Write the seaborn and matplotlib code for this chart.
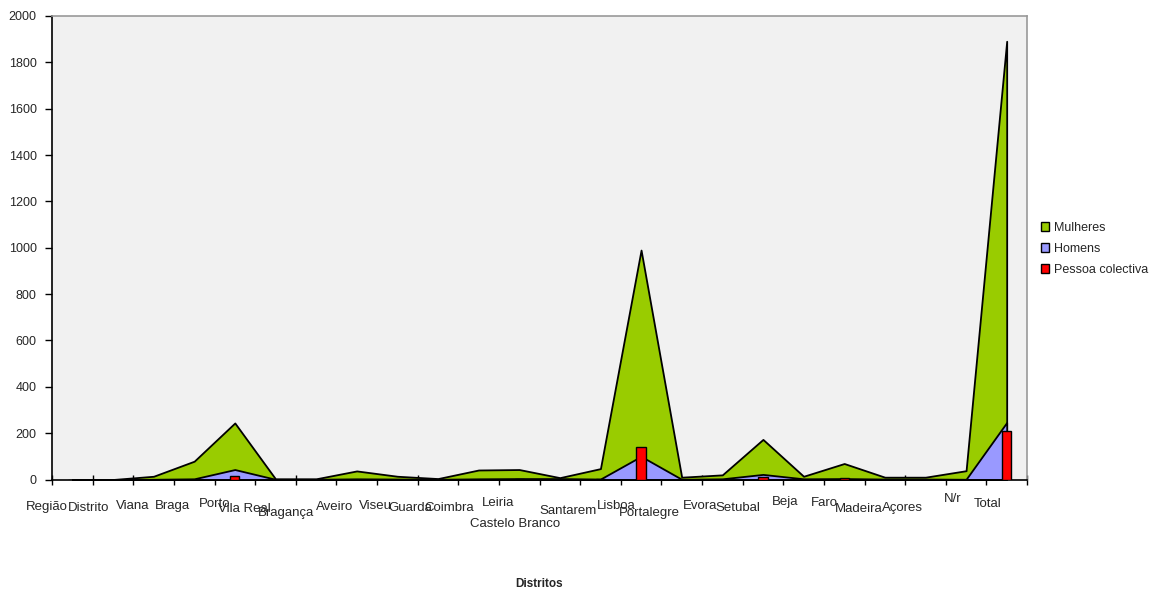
import matplotlib
matplotlib.use("Agg")
import matplotlib.pyplot as plt
from matplotlib.patches import Patch
from matplotlib.transforms import blended_transform_factory
import numpy as np
import pandas as pd
import seaborn as sns

# ---- data -------------------------------------------------------------
distritos = ["Região", "Distrito", "Viana", "Braga", "Porto", "Vila Real",
             "Bragança", "Aveiro", "Viseu", "Guarda", "Coimbra", "Leiria",
             "Castelo Branco", "Santarem", "Lisboa", "Portalegre", "Evora",
             "Setubal", "Beja", "Faro", "Madeira", "Açores", "N/r", "Total"]
mulheres = [0, 0, 14, 79, 244, 3, 3, 37, 14, 4, 41, 43,
            8, 47, 990, 10, 20, 173, 14, 69, 10, 10, 38, 1891]
homens = [0, 0, 1, 3, 43, 1, 1, 3, 2, 1, 3, 4,
          4, 2, 100, 1, 3, 22, 3, 4, 2, 2, 1, 246]
pessoa_colectiva = [0, 0, 0, 0, 15, 0, 0, 0, 0, 0, 0, 3,
                    0, 3, 141, 0, 0, 9, 0, 5, 0, 0, 0, 210]
y_ticks = list(range(0, 2001, 200))

# label placement (pixel nudges from the category boundary, pixel row)
label_dx = [-5, -4, -1, -1, 0, -11, -10, -2, -2, -7, -9, -1,
            -24, -12, -4, -12, -2, -5, 2, 1, -6, -3, 7, 1]
label_y = [507, 508, 506, 506, 504, 509, 513, 507, 506, 508, 508, 503,
           524, 511, 506, 513, 506, 508, 502, 503, 509, 508, 499, 504]

df = pd.DataFrame({"Distrito": distritos, "Mulheres": mulheres,
                   "Homens": homens, "Pessoa colectiva": pessoa_colectiva})

GREEN, BLUE, RED = "#99CC00", "#9999FF", "#FF0000"

sns.set_style("white")
plt.rcParams["font.family"] = ["Liberation Sans", "DejaVu Sans"]

W, H = 1173, 592
fig = plt.figure(figsize=(W / 100, H / 100), dpi=100)
L, R, T, B = 52, 1027, 16, 479.5
ax = fig.add_axes([L / W, 1 - B / H, (R - L) / W, (B - T) / H])
ax.set_facecolor("#f1f1f1")

pos = np.arange(len(distritos))

# red columns through seaborn on the categorical axis
sns.barplot(data=df, x="Distrito", y="Pessoa colectiva", order=distritos,
            color=RED, saturation=1, width=0.23, errorbar=None,
            edgecolor="black", linewidth=1.0, ax=ax, zorder=3)

# overlapping area series, women behind men
ax.fill_between(pos, 0, df["Mulheres"], facecolor=GREEN, edgecolor="black",
                linewidth=1.3, zorder=1)
ax.fill_between(pos, 0, df["Homens"], facecolor=BLUE, edgecolor="black",
                linewidth=1.3, zorder=2)

ax.set_xlim(-0.5, len(distritos) - 0.5)
ax.set_ylim(0, 2000)
ax.set_yticks(y_ticks)
ax.set_yticklabels([str(v) for v in y_ticks], fontsize=9)
ax.set_xticks(np.arange(len(distritos) + 1) - 0.5)
ax.set_xticklabels([])
ax.set_xlabel("")
ax.set_ylabel("")

ax.tick_params(axis="y", direction="out", length=5, width=1, color="black",
               pad=6, left=True)
ax.tick_params(axis="x", direction="inout", length=7, width=1, color="black",
               bottom=True)

for side in ("left", "bottom"):
    ax.spines[side].set_color("black")
    ax.spines[side].set_linewidth(1.2)
for side in ("top", "right"):
    ax.spines[side].set_visible(True)
    ax.spines[side].set_color("#999999")
    ax.spines[side].set_linewidth(1.2)

# category names at the boundaries, staggered where they collide
px_per_cat = (R - L) / len(distritos)
trans = blended_transform_factory(ax.transData, fig.transFigure)
for i, name in enumerate(distritos):
    ax.text(i - 0.5 + label_dx[i] / px_per_cat, 1 - label_y[i] / H, name,
            transform=trans, ha="center", va="center", fontsize=9.5,
            clip_on=False)

fig.text((L + R) / 2 / W, 1 - 584 / H, "Distritos", ha="center",
         va="center", fontsize=8.5, fontweight="bold")

handles = [Patch(facecolor=c, edgecolor="black", linewidth=1.0, label=l)
           for c, l in ((GREEN, "Mulheres"), (BLUE, "Homens"),
                        (RED, "Pessoa colectiva"))]
fig.legend(handles=handles, loc="center left",
           bbox_to_anchor=(1041 / W, 1 - 249 / H), frameon=False,
           fontsize=9, handlelength=0.65, handleheight=0.65,
           handletextpad=0.4, labelspacing=0.72, borderpad=0,
           borderaxespad=0)

fig.savefig("out.png", dpi=100, facecolor="white")
